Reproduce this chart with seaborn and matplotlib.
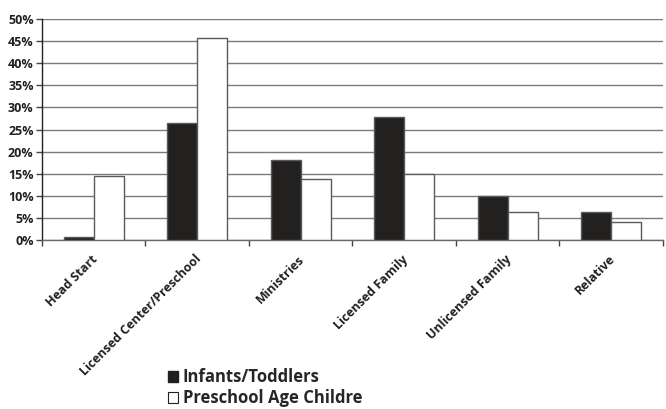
import matplotlib
matplotlib.use("Agg")
import matplotlib.pyplot as plt
import matplotlib.transforms as mtransforms
from matplotlib.patches import Patch
from matplotlib.ticker import MultipleLocator, FuncFormatter
import seaborn as sns
import pandas as pd

categories = ["Head Start", "Licensed Center/Preschool", "Ministries",
              "Licensed Family", "Unlicensed Family", "Relative"]
infants_toddlers = [0.7, 26.4, 18.1, 27.9, 9.9, 6.4]
preschool_age = [14.4, 45.6, 13.9, 14.9, 6.4, 4.1]
series_names = ["Infants/Toddlers", "Preschool Age Childre"]

df = pd.DataFrame({
    "category": categories * 2,
    "value": infants_toddlers + preschool_age,
    "group": [series_names[0]] * len(categories) + [series_names[1]] * len(categories),
})

sns.set_theme(style="white")
plt.rcParams["font.family"] = ["Open Sans", "DejaVu Sans"]
plt.rcParams["font.weight"] = "bold"

fig = plt.figure(figsize=(6.66, 4.09), dpi=100)
ax = fig.add_axes([0.063, 0.4132, 0.9325, 0.5403])

edge = "#5a5a5a"
sns.barplot(data=df, x="category", y="value", hue="group", order=categories,
            hue_order=series_names, palette=["#231f20", "#ffffff"],
            edgecolor=edge, linewidth=1.0, width=0.58, ax=ax, legend=False,
            zorder=3)

ax.set_xlim(-0.5, len(categories) - 0.5)
ax.set_ylim(0, 50)
ax.yaxis.set_major_locator(MultipleLocator(5))
ax.yaxis.set_major_formatter(FuncFormatter(lambda v, p: f"{v:.0f}%"))
ax.grid(axis="y", color="#7a7a7a", linewidth=1.0, zorder=0)
ax.set_axisbelow(True)
ax.set_xlabel("")
ax.set_ylabel("")

for s in ["top", "right"]:
    ax.spines[s].set_visible(False)
ax.spines["left"].set_color("#222222")
ax.spines["bottom"].set_color("#6a6a6a")
for s in ["left", "bottom"]:
    ax.spines[s].set_linewidth(1.0)

ax.tick_params(axis="y", which="major", left=True, length=4, width=1,
               color="#444444", pad=2, labelsize=9, labelcolor="#231f20")

# category boundaries carry the tick marks; labels sit at the centres
ax.set_xticks([i - 0.5 for i in range(len(categories) + 1)], minor=True)
ax.tick_params(axis="x", which="minor", bottom=True, length=4, width=1,
               color="#444444")
ax.tick_params(axis="x", which="major", bottom=False, length=0, pad=9)
ax.set_xticks(range(len(categories)))
ax.set_xticklabels(categories, rotation=45, ha="right", va="top",
                   rotation_mode="anchor", fontsize=9, fontweight="bold",
                   color="#231f20")
shift = mtransforms.ScaledTranslation(-3 / 100, 0, fig.dpi_scale_trans)
for lbl in ax.get_xticklabels():
    lbl.set_transform(lbl.get_transform() + shift)

handles = [Patch(facecolor="#231f20", edgecolor="#231f20"),
           Patch(facecolor="#ffffff", edgecolor="#231f20", linewidth=0.8)]
fig.legend(handles, series_names, loc="upper left",
           bbox_to_anchor=(0.252, 0.1), frameon=False,
           handlelength=0.6, handleheight=0.6, handletextpad=0.3,
           labelspacing=0.2, borderaxespad=0, borderpad=0,
           prop={"family": ["Open Sans", "DejaVu Sans"], "weight": "bold",
                 "size": 12})

fig.savefig("out.png", dpi=100)
